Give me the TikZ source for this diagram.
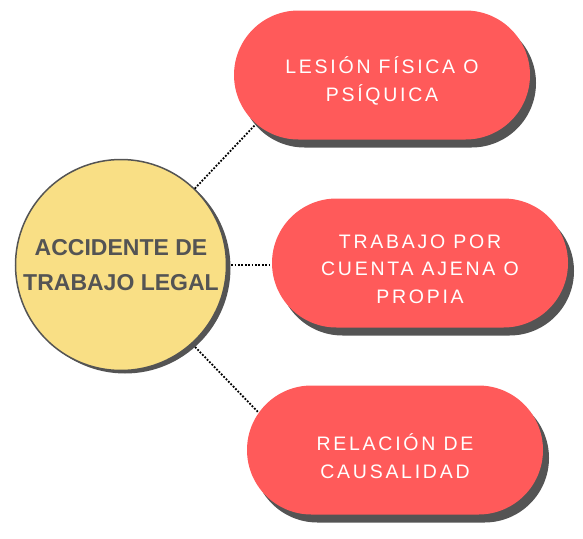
\documentclass[tikz,border=0pt]{standalone}
\usepackage{fontspec}
\setmainfont{Liberation Sans}
\newfontfamily\pillfont[LetterSpace=14]{Liberation Sans}
\usetikzlibrary{shapes.misc,shadows}
\definecolor{pillred}{HTML}{FF5A5A}
\definecolor{sunyellow}{HTML}{F9DF85}
\definecolor{shadowgray}{HTML}{545454}
\definecolor{textgray}{HTML}{545454}
\begin{document}
\begin{tikzpicture}[x=1pt,y=-1pt,
  pill/.style={rounded rectangle, fill=pillred, minimum width=296pt,
    minimum height=129pt, inner sep=0pt,
    drop shadow={shadow xshift=6pt, shadow yshift=-8pt, fill=shadowgray, opacity=1}},
  pilltext/.style={text=white, align=center, inner sep=0pt, yshift=-6pt,
    font=\pillfont\fontsize{19.5}{27.5}\selectfont},
  hub/.style={circle, minimum size=211pt, inner sep=0pt, fill=sunyellow,
    draw=textgray, line width=1.5pt, text=textgray, align=center,
    font=\bfseries\fontsize{23}{35}\selectfont,
    drop shadow={shadow xshift=4pt, shadow yshift=-3pt, fill=shadowgray, opacity=1}},
  link/.style={line width=1.8pt, dash pattern=on 1.8pt off 1.6pt, black}]
\useasboundingbox (0,0) rectangle (583,538);
\node[hub] (c) at (121,265) {ACCIDENTE DE\\TRABAJO LEGAL};
\node[pill, label={[pilltext]center:LESIÓN FÍSICA O\\PSÍQUICA}] (p1) at (382,75) {};
\node[pill, label={[pilltext]center:TRABAJO POR\\CUENTA AJENA O\\PROPIA}] (p2) at (420,263) {};
\node[pill, label={[pilltext]center:RELACIÓN DE\\CAUSALIDAD}] (p3) at (395,450) {};
\draw[link] (c.46) -- ([xshift=-127pt,yshift=-50pt]p1.center);
\draw[link] ([xshift=4pt]c.east) -- (c.east -| p2.west);
\draw[link] ([xshift=3pt,yshift=-3pt]c.-48) -- ([xshift=-137pt,yshift=38pt]p3.center);
\end{tikzpicture}
\end{document}
